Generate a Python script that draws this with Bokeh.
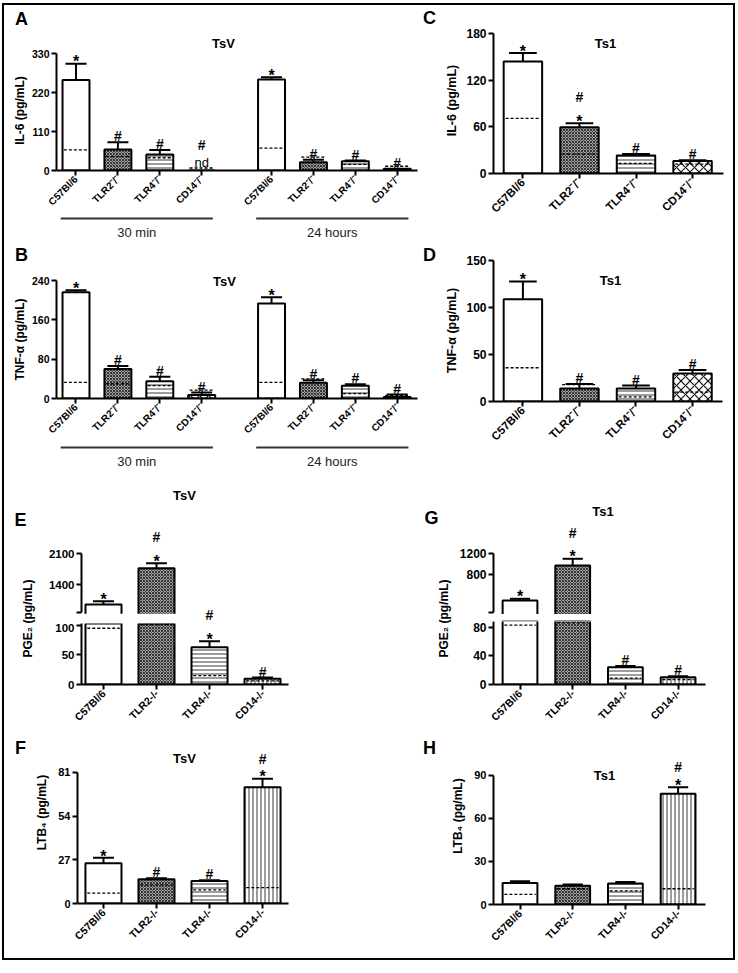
import math
from bokeh.plotting import figure
from bokeh.layouts import column, row
from bokeh.models import Range1d, FixedTicker, Label, BoxAnnotation
from bokeh.core.properties import value
from bokeh.embed import file_html
from bokeh.resources import INLINE

FONT = "Liberation Sans"

# ------------------------------------------------------------------ data
labels_sup = ["C57Bl/6", "TLR2\u207b/\u207b", "TLR4\u207b/\u207b", "CD14\u207b/\u207b"]
labels_plain = ["C57Bl/6", "TLR2-/-", "TLR4-/-", "CD14-/-"]
time_groups = ["30 min", "24 hours"]

# A  IL-6, TsV (30 min x4, 24 hours x4)
il6_tsv = [255, 59, 45, 0, 257, 23, 26, 5]
il6_tsv_err = [301, 80, 58, 0, 263, 30, 28, 5]
il6_tsv_ctrl = [58, 40, 36, 7, 63, 38, 17, 12]
il6_tsv_marks = [["*"], ["#"], ["#"], ["#", "nd"], ["*"], ["#"], ["#"], ["#"]]

# B  TNF-alpha, TsV
tnf_tsv = [216, 60, 35, 7, 193, 32, 26, 3]
tnf_tsv_err = [220, 66, 44, 12, 206, 37, 29, 8]
tnf_tsv_ctrl = [33, 30, 26, 17, 33, 40, 10, 6]
tnf_tsv_marks = [["*"], ["#"], ["#"], ["#"], ["*"], ["#"], ["#"], ["#"]]

# C  IL-6, Ts1
il6_ts1 = [144, 59.5, 23, 16]
il6_ts1_err = [155, 64.7, 25, 17]
il6_ts1_ctrl = [71, 25, 13, 12]
il6_ts1_marks = [["*"], ["#", "*"], ["#"], ["#"]]

# D  TNF-alpha, Ts1
tnf_ts1 = [109, 14, 14, 30]
tnf_ts1_err = [128, 18.6, 17, 33.5]
tnf_ts1_ctrl = [36, 18, 5, 10]
tnf_ts1_marks = [["*"], ["#"], ["#"], ["#"]]

# E  PGE2, TsV
pge2_tsv = [948, 1770, 63, 9.5]
pge2_tsv_err = [1024, 1880, 73, 11.8]
pge2_tsv_ctrl = [95, 101, 15, 6]
pge2_tsv_marks = [["*"], ["#", "*"], ["#", "*"], ["#"]]

# F  LTB4, TsV
ltb4_tsv = [24.8, 15, 13.9, 71.8]
ltb4_tsv_err = [28.2, 15.6, 14.3, 77]
ltb4_tsv_ctrl = [6.4, 11.5, 8.4, 9.8]
ltb4_tsv_marks = [["*"], ["#"], ["#"], ["#", "*"]]

# G  PGE2, Ts1
pge2_ts1 = [310, 977, 24, 10]
pge2_ts1_err = [343, 1105, 26, 11.5]
pge2_ts1_ctrl = [83, 86, 9, 7]
pge2_ts1_marks = [["*"], ["#", "*"], ["#"], ["#"]]

# H  LTB4, Ts1
ltb4_ts1 = [15, 13, 14.6, 77.2]
ltb4_ts1_err = [16.2, 13.9, 15.7, 81.8]
ltb4_ts1_ctrl = [7, 11, 9.5, 11]
ltb4_ts1_marks = [[], [], [], ["#", "*"]]

# ------------------------------------------------------------------ styles
WHITE = dict(fill_color="white")
CHECK = dict(fill_color="#a0a0a0", hatch_pattern="diagonal_cross", hatch_color="#1a1a1a",
             hatch_scale=3.0, hatch_weight=0.8)
HLINES = dict(fill_color="white", hatch_pattern="horizontal_line", hatch_color="#222222",
              hatch_scale=4.0, hatch_weight=0.9)
DIAM = dict(fill_color="white", hatch_pattern="diagonal_cross", hatch_color="#111111",
            hatch_scale=9.0, hatch_weight=1.2)
VLINES = dict(fill_color="white", hatch_pattern="vertical_line", hatch_color="#222222",
              hatch_scale=4.0, hatch_weight=0.9)
styles_top = [WHITE, CHECK, HLINES, DIAM]
styles_bottom = [WHITE, CHECK, HLINES, VLINES]


def IX(r):
    return int(round(r - 4))


def IY(r):
    return int(round(r - 5))


def make_fig(g, xaxis=True, yaxis=True, extend_bottom=False):
    """Frame extends to the top and right of the figure box; axes are bounded."""
    x0, x1, y0, y1 = g["box"]
    fl, fr, ft, fb = g["frame"]
    xa, xb = g["xr"]
    ya, yb = g["yr"]
    xe = xa + (x1 - fl) / (fr - fl) * (xb - xa)
    ye = ya + (fb - y0) / (fb - ft) * (yb - ya)
    ys = ya - (y1 - fb) / (fb - ft) * (yb - ya) if extend_bottom else ya
    xr = g.get("share") or Range1d(xa, xe)
    g["xr_obj"] = xr
    p = figure(width=IX(x1) - IX(x0), height=IY(y1) - IY(y0),
               x_range=xr, y_range=Range1d(ys, ye),
               output_backend="svg", toolbar_location=None,
               x_axis_location="below" if xaxis else None,
               y_axis_location="left" if yaxis else None,
               min_border_left=IX(fl) - IX(x0), min_border_right=0,
               min_border_top=0,
               min_border_bottom=0 if extend_bottom else IY(y1) - IY(fb))
    p.outline_line_color = None
    p.grid.visible = False
    p.background_fill_color = "white"
    p.border_fill_color = "white"
    if xaxis:
        p.xaxis[0].bounds = (xa, xb)
    if yaxis:
        p.yaxis[0].bounds = (ya, yb)
    return p


def to_data(g, rx, ry):
    fl, fr, ft, fb = g["frame"]
    xa, xb = g["xr"]
    ya, yb = g["yr"]
    return (xa + (rx - fl) / (fr - fl) * (xb - xa),
            ya + (fb - ry) / (fb - ft) * (yb - ya))


def add_text(p, g, rx, ry, text, size, style="bold"):
    x, y = to_data(g, rx, ry)
    p.add_layout(Label(x=x, y=y, text=text, text_font=FONT, text_font_size=size,
                       text_font_style=style, text_align="center",
                       text_baseline="middle", text_color="black"))


def common_axis(ax):
    ax.axis_line_width = 2
    ax.axis_line_color = "black"
    ax.major_tick_line_width = 2
    ax.major_tick_line_color = "black"
    ax.major_tick_out = 5
    ax.major_tick_in = 0
    ax.minor_tick_line_color = None
    ax.major_label_text_font = FONT
    ax.major_label_text_font_style = "bold"
    ax.major_label_text_color = "black"
    ax.major_label_standoff = 2


def style_y(p, ticks, size, overrides=None):
    ax = p.yaxis[0]
    ax.ticker = FixedTicker(ticks=ticks)
    if overrides:
        ax.major_label_overrides = overrides
    common_axis(ax)
    ax.major_label_text_font_size = size


def style_x(p, pos, labels, size):
    ax = p.xaxis[0]
    ax.ticker = FixedTicker(ticks=list(pos))
    ax.major_label_overrides = {int(t): l for t, l in zip(pos, labels)}
    common_axis(ax)
    ax.major_label_orientation = math.pi / 4
    ax.major_label_text_font_size = size


def draw_bars(p, pos, vals, err, ctrl, styles, bw, capf, show_ctrl=True):
    for x, v, st in zip(pos, vals, styles):
        p.vbar(x=[x], top=[v], bottom=0, width=bw, line_color="black",
               line_width=2, **st)
    if show_ctrl:
        dw = bw * 0.9
        p.segment(x0=[x - dw / 2 for x in pos], x1=[x + dw / 2 for x in pos],
                  y0=ctrl, y1=ctrl, line_color="black", line_width=1.3,
                  line_dash="3 2")
    idx = [i for i in range(len(pos)) if err[i] > vals[i]]
    p.segment(x0=[pos[i] for i in idx], x1=[pos[i] for i in idx],
              y0=[vals[i] for i in idx], y1=[err[i] for i in idx],
              line_color="black", line_width=2)
    cw = bw * capf
    p.segment(x0=[pos[i] - cw / 2 for i in idx], x1=[pos[i] + cw / 2 for i in idx],
              y0=[err[i] for i in idx], y1=[err[i] for i in idx],
              line_color="black", line_width=2)


MARK = {"*": ("16px", "bold", 9.2), "#": ("14px", "bold", 5.0), "nd": ("13px", "normal", 3.4)}


def mark_label(x, y, ch, y_offset=0.0):
    size, style, _ = MARK[ch]
    return Label(x=x, y=y, y_offset=y_offset, text=ch, text_font=FONT,
                 text_font_size=size, text_font_style=style, text_align="center",
                 text_baseline="alphabetic", text_color="black")


def annotate(p, pos, err, marks, gap, c0=11):
    for x, e, m in zip(pos, err, marks):
        for k, ch in enumerate(reversed(m)):
            p.add_layout(mark_label(x, e, ch, c0 + k * gap - MARK[ch][2]))


def annotate_broken(parts, pos, err, marks, gap, c0=11):
    """parts = [(p_upper, g_upper), (p_lower, g_lower)]"""
    (pu, gu), (pl, gl) = parts
    for x, e, m in zip(pos, err, marks):
        src = gu if e >= gu["yr"][0] else gl
        fl, fr, ft, fb = src["frame"]
        ya, yb = src["yr"]
        e_px = fb - (e - ya) / (yb - ya) * (fb - ft)
        for k, ch in enumerate(reversed(m)):
            cy = e_px - (c0 + k * gap)
            by = cy + MARK[ch][2]
            p, g = (pu, gu) if cy < gu["box"][3] else (pl, gl)
            p.add_layout(mark_label(x, to_data(g, 0, by)[1], ch))


def strip_fig(box, items):
    """Narrow figure holding the panel letters and rotated y-axis titles."""
    x0, x1, y0, y1 = box
    p = figure(width=IX(x1) - IX(x0), height=IY(y1) - IY(y0),
               x_range=Range1d(x0, x1), y_range=Range1d(y1, y0),
               output_backend="svg", toolbar_location=None,
               x_axis_location=None, y_axis_location=None,
               min_border_left=0, min_border_right=0, min_border_top=0, min_border_bottom=0)
    p.outline_line_color = None
    p.grid.visible = False
    p.background_fill_color = "white"
    p.border_fill_color = "white"
    for rx, ry, text, size, angle in items:
        p.add_layout(Label(x=rx, y=ry, text=text, text_font=FONT, text_font_size=size,
                           text_font_style="bold", text_align="center",
                           text_baseline="middle", angle=angle, text_color="black"))
    return p


V = math.pi / 2

# ------------------------------------------------------------------ positions
pos8 = [3 * (i + 1) + 14 * grp for grp in range(2) for i in range(4)]
pos4 = [1, 2, 3, 4]
bw8 = 1.93
labels8 = labels_sup * 2
styles8 = styles_top * 2

# ------------------------------------------------------------------ panel A
gA = dict(box=(28, 420, 5, 214), frame=(56, 417, 53, 170), xr=(1.604, 27.45), yr=(0, 330))
pA = make_fig(gA)
draw_bars(pA, pos8, il6_tsv, il6_tsv_err, il6_tsv_ctrl, styles8, bw8, 0.78)
annotate(pA, pos8, il6_tsv_err, il6_tsv_marks, 20)
style_y(pA, [0, 110, 220, 330], "10.5px")
style_x(pA, pos8, labels8, "10px")
add_text(pA, gA, 223, 43, "TsV", "13px")


def bracket(box, share):
    g = dict(box=box, frame=(56, 417, box[2], box[3]), xr=(1.604, 27.45),
             yr=(0, box[3] - box[2]), share=share)
    p = make_fig(g, xaxis=False, yaxis=False)
    spans = [(pos8[4 * k] - 1.1, pos8[4 * k + 3] + 0.8) for k in range(2)]
    p.segment(x0=[s[0] for s in spans], x1=[s[1] for s in spans], y0=[24, 24], y1=[24, 24],
              line_color="#333333", line_width=1.8)
    p.text(x=[(a + b) / 2 for a, b in spans], y=[10, 10], text=time_groups,
           text_font=value(FONT), text_font_size="13px", text_align="center",
           text_baseline="middle", text_color="#222222")
    return p


brA = bracket((28, 420, 214, 242), gA["xr_obj"])

# ------------------------------------------------------------------ panel B
gB = dict(box=(28, 420, 242, 443), frame=(56, 417, 280, 398), xr=(1.604, 27.45), yr=(0, 240))
pB = make_fig(gB)
draw_bars(pB, pos8, tnf_tsv, tnf_tsv_err, tnf_tsv_ctrl, styles8, bw8, 0.78)
annotate(pB, pos8, tnf_tsv_err, tnf_tsv_marks, 20)
style_y(pB, [0, 80, 160, 240], "10.5px")
style_x(pB, pos8, labels8, "10px")
add_text(pB, gB, 224, 281, "TsV", "13px")
brB = bracket((28, 420, 443, 471), gB["xr_obj"])

stripAB = strip_fig((4, 28, 5, 471), [(21, 18.5, "A", "18px", 0.0),
                                      (19, 110, "IL-6 (pg/mL)", "12px", V),
                                      (21, 254, "B", "18px", 0.0),
                                      (19, 339, "TNF-\u03b1 (pg/mL)", "12px", V)])

# ------------------------------------------------------------------ panel C
gC = dict(box=(460, 733, 5, 232), frame=(493, 723, 33, 173), xr=(0.48, 4.547), yr=(0, 180))
pC = make_fig(gC)
draw_bars(pC, pos4, il6_ts1, il6_ts1_err, il6_ts1_ctrl, styles_top, 0.68, 0.72)
annotate(pC, pos4, il6_ts1_err, il6_ts1_marks, 20)
style_y(pC, [0, 60, 120, 180], "12px")
style_x(pC, pos4, labels_sup, "11.5px")
add_text(pC, gC, 605, 43, "Ts1", "13px")

# ------------------------------------------------------------------ panel D
gD = dict(box=(460, 733, 232, 462), frame=(493, 722, 260.5, 401.5), xr=(0.48, 4.53), yr=(0, 150))
pD = make_fig(gD)
draw_bars(pD, pos4, tnf_ts1, tnf_ts1_err, tnf_ts1_ctrl, styles_top, 0.68, 0.72)
annotate(pD, pos4, tnf_ts1_err, tnf_ts1_marks, 20)
style_y(pD, [0, 50, 100, 150], "12px")
style_x(pD, pos4, labels_sup, "11.5px")
add_text(pD, gD, 610, 280, "Ts1", "13px")

stripCD = strip_fig((420, 460, 5, 462), [(429, 17.5, "C", "18px", 0.0),
                                         (451, 100, "IL-6 (pg/mL)", "12.5px", V),
                                         (429, 254, "D", "18px", 0.0),
                                         (451, 330, "TNF-\u03b1 (pg/mL)", "12.5px", V)])


# ------------------------------------------------------------------ broken panels E, G
def broken_panel(box_up, box_lo, fr_up, fr_lo, xr, yr_up, yr_lo, ticks_up, ticks_lo,
                 vals, err, ctrl, marks, bw, title, title_xy, ysize):
    gu = dict(box=box_up, frame=fr_up, xr=xr, yr=yr_up)
    pu = make_fig(gu, xaxis=False, extend_bottom=True)
    gl = dict(box=box_lo, frame=fr_lo, xr=xr, yr=yr_lo, share=gu["xr_obj"])
    pl = make_fig(gl)
    up = [i for i in range(len(vals)) if vals[i] > yr_up[0]]
    draw_bars(pu, [pos4[i] for i in up], [vals[i] for i in up], [err[i] for i in up],
              [ctrl[i] for i in up], [styles_bottom[i] for i in up], bw, 0.58,
              show_ctrl=False)
    draw_bars(pl, pos4, vals, err, ctrl, styles_bottom, bw, 0.58)
    # white bands: the break between the two axis segments
    px_u = (yr_up[1] - yr_up[0]) / (fr_up[3] - fr_up[2])
    pu.add_layout(BoxAnnotation(top=yr_up[0] - 1.2 * px_u, fill_color="white",
                                fill_alpha=1.0, line_color=None))
    pl.add_layout(BoxAnnotation(bottom=yr_lo[1], fill_color="white", fill_alpha=1.0,
                                line_color=None))
    style_y(pu, ticks_up, ysize, overrides={yr_up[0]: ""})
    style_y(pl, ticks_lo, ysize)
    style_x(pl, pos4, labels_plain, "10.5px")
    add_text(pu, gu, title_xy[0], title_xy[1], title, "13px")
    annotate_broken([(pu, gu), (pl, gl)], pos4, err, marks, 20)
    return pu, pl


pEu, pEl = broken_panel((40, 420, 471, 623), (40, 420, 623, 737),
                        (81, 288, 553, 612), (81, 288, 623, 684),
                        (0.585, 4.49), (770, 2100), (0, 103),
                        [770, 1400, 2100], [0, 50, 100],
                        pge2_tsv, pge2_tsv_err, pge2_tsv_ctrl, pge2_tsv_marks, 0.68,
                        "TsV", (184, 495), "11.5px")
stripE = strip_fig((4, 40, 471, 737), [(27.5, 618, "PGE\u2082 (pg/mL)", "12px", V),
                                       (20, 519, "E", "18px", 0.0)])

pGu, pGl = broken_panel((456, 733, 462, 620), (456, 733, 620, 737),
                        (493, 705, 553.3, 612.3), (493, 705, 621, 684),
                        (0.497, 4.52), (76, 1200), (0, 88),
                        [76, 800, 1200], [0, 40, 80],
                        pge2_ts1, pge2_ts1_err, pge2_ts1_ctrl, pge2_ts1_marks, 0.66,
                        "Ts1", (602.5, 511), "12px")
stripG = strip_fig((420, 456, 462, 737), [(443.5, 618, "PGE\u2082 (pg/mL)", "12px", V),
                                          (431, 517.5, "G", "18px", 0.0)])

# ------------------------------------------------------------------ panel F
gF = dict(box=(50, 420, 737, 958), frame=(77, 288, 771.7, 902.7), xr=(0.51, 4.49), yr=(0, 81))
pF = make_fig(gF)
draw_bars(pF, pos4, ltb4_tsv, ltb4_tsv_err, ltb4_tsv_ctrl, styles_bottom, 0.68, 0.58)
annotate(pF, pos4, ltb4_tsv_err, ltb4_tsv_marks, 14)
style_y(pF, [0, 27, 54, 81], "11px")
style_x(pF, pos4, labels_plain, "10.5px")
add_text(pF, gF, 184, 758, "TsV", "13px")
stripF = strip_fig((4, 50, 737, 958), [(20, 751, "F", "18px", 0.0),
                                       (41.5, 837, "LTB\u2084 (pg/mL)", "12px", V)])

# ------------------------------------------------------------------ panel H
gH = dict(box=(468, 733, 737, 958), frame=(493, 705, 775, 904.3), xr=(0.497, 4.52), yr=(0, 90))
pH = make_fig(gH)
draw_bars(pH, pos4, ltb4_ts1, ltb4_ts1_err, ltb4_ts1_ctrl, styles_bottom, 0.66, 0.58)
annotate(pH, pos4, ltb4_ts1_err, ltb4_ts1_marks, 14)
style_y(pH, [0, 30, 60, 90], "11px")
style_x(pH, pos4, labels_plain, "10.5px")
add_text(pH, gH, 604, 775, "Ts1", "13px")
stripH = strip_fig((420, 468, 737, 958), [(429, 751, "H", "18px", 0.0),
                                          (457.5, 841, "LTB\u2084 (pg/mL)", "12px", V)])

# ------------------------------------------------------------------ layout
left = column(row(stripAB, column(pA, brA, pB, brB)),
              row(stripE, column(pEu, pEl)),
              row(stripF, pF))
right = column(row(stripCD, column(pC, pD)),
               row(stripG, column(pGu, pGl)),
               row(stripH, pH))
layout = column(row(left, right),
                styles={"border": "2px solid black", "box-sizing": "content-box",
                        "margin": "3px 0px 0px 2px"})

open("out.html", "w").write(file_html(layout, INLINE))
